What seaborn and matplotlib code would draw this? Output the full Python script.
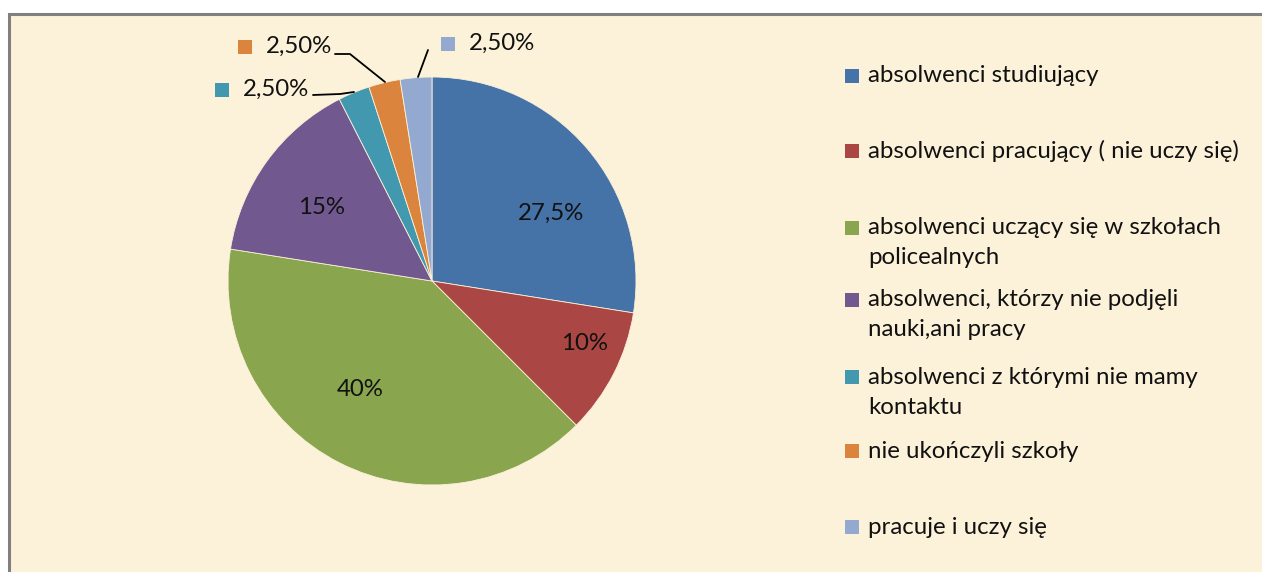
import matplotlib
matplotlib.use("Agg")
import matplotlib.pyplot as plt
from matplotlib.patches import Rectangle
import seaborn as sns

# ---- data ----
categories = [
    "absolwenci studiujący",
    "absolwenci pracujący ( nie uczy się)",
    "absolwenci uczący się w szkołach\npolicealnych",
    "absolwenci, którzy nie podjęli\nnauki,ani pracy",
    "absolwenci z którymi nie mamy\nkontaktu",
    "nie ukończyli szkoły",
    "pracuje i uczy się",
]
values = [27.5, 10, 40, 15, 2.5, 2.5, 2.5]
value_labels = ["27,5%", "10%", "40%", "15%", "2,50%", "2,50%", "2,50%"]
colors = ["#4572A7", "#AA4643", "#89A54E", "#71588F", "#4198AF", "#DB843D", "#93A9CF"]

sns.set_theme(style="white")
sns.set_palette(colors)
FONT = ["Lato", "DejaVu Sans"]
plt.rcParams["font.family"] = FONT

W, H = 1262, 572
fig = plt.figure(figsize=(W / 100, H / 100), dpi=100, facecolor="white")

# background axes
bg = fig.add_axes([0, 0, 1, 1], zorder=0)
bg.set_xlim(0, W)
bg.set_ylim(H, 0)
bg.axis("off")
bg.add_patch(Rectangle((8.5, 13.5), W, H, facecolor="#FCF1D9",
                       edgecolor="#808080", linewidth=2.2))

# pie axes
cx, cy, r = 432, 281, 204
pax = fig.add_axes([(cx - r) / W, (H - cy - r) / H, 2 * r / W, 2 * r / H], zorder=1)
pax.pie(values, colors=colors, startangle=90, counterclock=False,
        wedgeprops=dict(linewidth=0.6, edgecolor="#FCF1D9"))
pax.set_xlim(-1, 1)
pax.set_ylim(-1, 1)
pax.set_aspect("equal")
pax.axis("off")

# overlay axes in pixel coordinates (y down)
ov = fig.add_axes([0, 0, 1, 1], zorder=2)
ov.set_xlim(0, W)
ov.set_ylim(H, 0)
ov.axis("off")
ov.patch.set_alpha(0)

fs = 17.3
txt_color = "#111111"
# inner labels (pixel positions)
inner_pos = [(551, 213), (585, 343), (360, 390), (322, 208)]
for (x, y), t in zip(inner_pos, value_labels[:4]):
    ov.text(x, y, t, ha="center", va="center", fontsize=fs, color=txt_color)

# outer labels with marker squares and leader lines
outer = [
    (222, 243, 89, [(313, 95), (340, 94), (354, 92)]),
    (245, 266, 46, [(335, 54), (350, 54), (385, 82)]),
    (448, 469, 43, [(428, 50), (418, 77)]),
]
for i, (mx, tx, ty, pts) in zip([4, 5, 6], outer):
    ov.add_patch(Rectangle((mx - 7, ty - 6), 14, 14, facecolor=colors[i], edgecolor="none"))
    ov.text(tx, ty, value_labels[i], ha="left", va="center", fontsize=fs, color=txt_color)
    xs, ys = zip(*pts)
    ov.plot(xs, ys, color="black", linewidth=1.3)

# legend (manual)
leg_y = [76, 151, 228, 300, 377, 451, 527]
for c, lab, y in zip(colors, categories, leg_y):
    ov.add_patch(Rectangle((845, y - 7), 14, 14, facecolor=c, edgecolor="none"))
    for k, line in enumerate(lab.split("\n")):
        ov.text(868, y + 30 * k, line, ha="left", va="center", fontsize=fs, color=txt_color)

fig.savefig("out.png", dpi=100, facecolor="white")
